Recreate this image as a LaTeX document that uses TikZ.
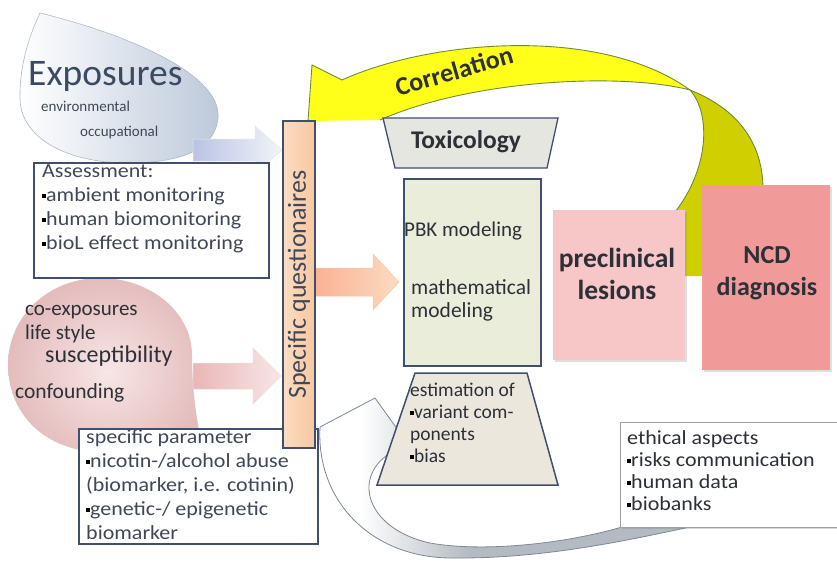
\documentclass[tikz,border=0pt]{standalone}
\usepackage{fontspec}
\setmainfont{Carlito}
\newfontfamily\wf{Carlito}[FakeStretch=1.1]
\usetikzlibrary{shadows,calc}
\definecolor{slate}{HTML}{3F4F6E}
\definecolor{txt}{HTML}{404858}
\definecolor{dtxt}{HTML}{2E3038}
\definecolor{barfill}{HTML}{F8C7A0}
\definecolor{barlight}{HTML}{FBDCC2}
\definecolor{greenfill}{HTML}{E9EDD9}
\definecolor{tanfill}{HTML}{EBE7DC}
\definecolor{toxfill}{HTML}{E6E6E0}
\definecolor{prefill}{HTML}{F7C6C6}
\definecolor{ncdfill}{HTML}{F09A9A}
\definecolor{yel}{HTML}{FFFF1A}
\definecolor{yelback}{HTML}{D0D000}
\definecolor{yeledge}{HTML}{6F8A3A}
\definecolor{expblue}{HTML}{BCC8DA}
\definecolor{expedge}{HTML}{AEB9C9}
\definecolor{expt}{HTML}{3B4A63}
\definecolor{pinkin}{HTML}{F7E6E6}
\definecolor{pinkout}{HTML}{E4BCBC}
\definecolor{graya}{HTML}{B4BAC1}
\definecolor{grayedge}{HTML}{7D8893}
\newcommand\blt{{\color{black}\rule[0.17em]{0.2em}{0.2em}}}
\newcommand\grayarrowpath{(320,427) .. controls (316,500) and (370,557) .. (450,558) .. controls (540,559) and (620,542) .. (690,527)
  -- (622,527) .. controls (560,545) and (480,552) .. (430,543) .. controls (370,530) and (352,482) .. (386,456)
  -- (403,437) -- (375,398) -- cycle}
\begin{document}
\begin{tikzpicture}[x=1pt,y=-1pt,
  framebox/.style={draw=slate,line width=1.8pt,fill=white,anchor=north west,inner sep=0pt},
  bodytext/.style={anchor=north west,inner sep=0pt,align=left,text=txt},
  blobtext/.style={anchor=west,inner sep=0pt,text=dtxt},
  yeline/.style={draw=yeledge,line width=0.9pt}]
\useasboundingbox[fill=white] (0,0) rectangle (837,567);

% ---------- yellow correlation arrow (back part) ----------
\fill[yelback] (690,90) .. controls (735,108) and (763,140) .. (763,190) -- (763,276) -- (684,276)
  -- (675,212) .. controls (708,170) and (712,115) .. (690,90) -- cycle;
\draw[yeline] (690,90) .. controls (735,108) and (763,140) .. (763,190);
\draw[yeline] (690,90) .. controls (712,115) and (708,170) .. (675,212);
% front part
\fill[yel] (312,65) -- (342,80) .. controls (430,40) and (600,25) .. (690,90)
  .. controls (620,72) and (470,80) .. (380,120) -- (308,121) -- cycle;
\draw[yeline] (308,121) -- (312,65) -- (342,80) .. controls (430,40) and (600,25) .. (690,90)
  .. controls (620,72) and (470,80) .. (380,120);
\node[rotate=16,font=\bfseries\fontsize{26}{26}\selectfont,text=dtxt] (corr) at (454,71) {Correlation};

% ---------- exposures drop ----------
\shade[left color=white,right color=expblue,draw=expedge,line width=0.6pt]
  (40,13) .. controls (130,35) and (222,75) .. (218,118) .. controls (215,150) and (180,163) .. (128,163)
  .. controls (70,163) and (22,140) .. (20,100) .. controls (19,62) and (32,30) .. (40,13) -- cycle;
\node[blobtext,text=expt,font=\fontsize{37.5}{37.5}\selectfont] (exp) at (28,76) {Exposures};
\node[blobtext,text=txt,font=\fontsize{15}{15}\selectfont] (env) at (41,106) {environmental};
\node[blobtext,text=txt,font=\fontsize{15}{15}\selectfont] (occ) at (80,133) {occupational};

% ---------- pink drop ----------
\shade[inner color=pinkin,outer color=pinkout]
  (100,278) .. controls (150,278) and (192,312) .. (192,355) .. controls (192,400) and (200,440) .. (207,465)
  .. controls (170,456) and (130,455) .. (95,452) .. controls (40,448) and (8,410) .. (8,365)
  .. controls (8,315) and (50,278) .. (100,278) -- cycle;
\node[blobtext,font=\fontsize{21}{21}\selectfont] (coexp) at (25,312) {co-exposures};
\node[blobtext,font=\fontsize{21}{21}\selectfont] (life) at (25,334) {life style};
\node[blobtext,font=\fontsize{24}{24}\selectfont] (susc) at (45,356) {susceptibility};
\node[blobtext,font=\fontsize{21.5}{21.5}\selectfont] (conf) at (15,393) {confounding};

% ---------- grey curved arrow (bottom) ----------
\fill[white] \grayarrowpath;
\begin{scope}
  \clip \grayarrowpath;
  \shade[left color=white,right color=graya] (360,380) rectangle (470,570);
  \fill[graya] (469,380) rectangle (700,570);
\end{scope}
\draw[grayedge,line width=0.8pt] \grayarrowpath;

% ---------- block arrows ----------
\shade[left color=expblue!90!blue!80,right color=white!80!expblue,draw=white!60!expblue,line width=0.5pt]
  (193,139) -- (255,139) -- (255,126) -- (282,150) -- (255,174) -- (255,161) -- (193,161) -- cycle;
\shade[left color=pinkout!90!red!85,right color=pinkin,draw=white!50!pinkout,line width=0.5pt]
  (193,363) -- (253,363) -- (253,348) -- (281,376) -- (253,404) -- (253,389) -- (193,389) -- cycle;
\shade[left color=barfill!85!red!90,right color=barlight,draw=barfill,line width=0.5pt]
  (315,268) -- (373,268) -- (373,254) -- (399,282) -- (373,310) -- (373,296) -- (315,296) -- cycle;

% ---------- left boxes ----------
\node[framebox,minimum width=235,minimum height=115] (assess) at (33,162) {};
\node[bodytext,font=\wf\fontsize{20}{24}\selectfont] (assesst) at (42,164)
  {Assessment:\\\blt ambient monitoring\\\blt human biomonitoring\\\blt bioL effect monitoring};

\node[framebox,minimum width=239,minimum height=115] (param) at (78,428) {};
\node[bodytext,font=\wf\fontsize{20}{24}\selectfont] (paramt) at (86,429)
  {specific parameter\\\blt nicotin-/alcohol abuse\\(biomarker, i.e. cotinin)\\\blt genetic-/ epigenetic\\biomarker};

% ---------- specific questionaires bar ----------
\node[draw=slate,line width=1.8pt,left color=barlight,right color=barfill,anchor=north west,
  minimum width=32,minimum height=327,inner sep=0pt] (bar) at (282,120) {};
\node[rotate=90,font=\fontsize{26}{26}\selectfont,text=txt] (bart) at (bar.center) {Specific questionaires};

% ---------- toxicology ----------
\draw[fill=toxfill,draw=slate,line width=1.3pt] (383,118) -- (558,118) -- (547,168) -- (395,168) -- cycle;
\node[font=\bfseries\fontsize{25.5}{25.5}\selectfont,text=dtxt] (tox) at (466,142) {Toxicology};

% ---------- modeling box ----------
\node[framebox,fill=greenfill,minimum width=137,minimum height=187] (model) at (403,178) {};
\node[blobtext,font=\fontsize{21}{21}\selectfont] (pbk) at (404,231) {PBK modeling};
\node[bodytext,text=dtxt,font=\fontsize{21.5}{23}\selectfont] (math) at (411,279) {mathematical\\modeling};

% ---------- estimation ----------
\draw[fill=tanfill,draw=slate,line width=1.5pt] (415,373) -- (527,373) -- (558,485) -- (377,485) -- cycle;
\node[bodytext,text=dtxt,font=\fontsize{19.5}{22}\selectfont] (est) at (410,383)
  {estimation of\\\blt variant com-\\ponents\\\blt bias};

% ---------- outcome boxes ----------
\node[fill=prefill,anchor=north west,minimum width=132,minimum height=150,inner sep=0pt,
  drop shadow={opacity=0.25,shadow xshift=1.5pt,shadow yshift=-1.5pt}] (pre) at (553,210) {};
\node[align=center,font=\bfseries\fontsize{27.5}{32}\selectfont,text=dtxt] (pret) at (617,274) {preclinical\\lesions};
\node[fill=ncdfill,anchor=north west,minimum width=128,minimum height=185,inner sep=0pt,
  drop shadow={opacity=0.25,shadow xshift=1.5pt,shadow yshift=-1.5pt}] (ncd) at (702,185) {};
\node[align=center,font=\bfseries\fontsize{26}{32}\selectfont,text=dtxt] (ncdt) at (767,273) {NCD\\diagnosis};

% ---------- ethical aspects ----------
\node[draw=gray!75,line width=0.8pt,fill=white,anchor=north west,minimum width=225,minimum height=105,inner sep=0pt,
  drop shadow={opacity=0.3,shadow xshift=1.5pt,shadow yshift=-1.5pt}] (eth) at (620,422) {};
\node[bodytext,text=dtxt,font=\wf\fontsize{20}{22}\selectfont] (etht) at (627,430)
  {ethical aspects\\\blt risks communication\\\blt human data\\\blt biobanks};
\end{tikzpicture}
\end{document}
